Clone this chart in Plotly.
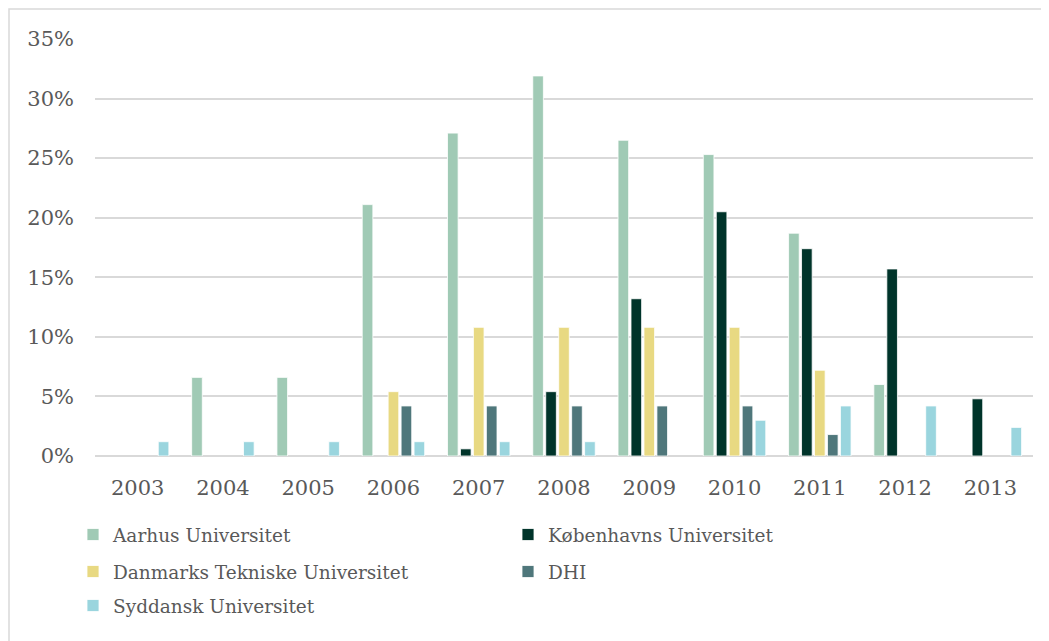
import plotly.graph_objects as go

years = ["2003", "2004", "2005", "2006", "2007", "2008", "2009", "2010", "2011", "2012", "2013"]

aarhus = [None, 0.066, 0.066, 0.211, 0.271, 0.319, 0.265, 0.253, 0.187, 0.060, None]
koebenhavn = [None, None, None, None, 0.006, 0.054, 0.132, 0.205, 0.174, 0.157, 0.048]
dtu = [None, None, None, 0.054, 0.108, 0.108, 0.108, 0.108, 0.072, None, None]
dhi = [None, None, None, 0.042, 0.042, 0.042, 0.042, 0.042, 0.018, None, None]
syddansk = [0.012, 0.012, 0.012, 0.012, 0.012, 0.012, None, 0.030, 0.042, 0.042, 0.024]

series = [
    ("Aarhus Universitet", aarhus, "#A0CAB5", "legend"),
    ("Københavns Universitet", koebenhavn, "#00342A", "legend"),
    ("Danmarks Tekniske Universitet", dtu, "#E8D982", "legend2"),
    ("DHI", dhi, "#4F777B", "legend2"),
    ("Syddansk Universitet", syddansk, "#9AD5DE", "legend3"),
]

FONT = "DejaVu Serif"
TXT = "#595959"
GRID = "#D9D9D9"

fig = go.Figure()
for name, vals, color, leg in series:
    fig.add_trace(go.Bar(
        x=years, y=vals, name=name, legend=leg,
        marker=dict(color=color, line=dict(color="white", width=0.8)),
    ))

# page has an 8px body margin; figure sized to fill the rest of the window
OFF = 8
W, H = 1049 - OFF, 641 - OFF
ml, mr, mt, mb = 95 - OFF, 16, 39 - OFF, 185
pw, ph = W - ml - mr, H - mt - mb

def px_x(x):
    return (x - OFF - ml) / pw

def px_y(y):
    return (H - mb - (y - OFF)) / ph

leg_common = dict(
    orientation="h", xanchor="left", yanchor="middle",
    font=dict(family=FONT, size=18.5, color=TXT),
    entrywidth=390, entrywidthmode="pixels",
    bgcolor="rgba(0,0,0,0)", itemclick=False, itemdoubleclick=False,
)

fig.update_layout(
    width=W, height=H,
    margin=dict(l=ml, r=mr, t=mt, b=mb),
    paper_bgcolor="white", plot_bgcolor="white",
    barmode="group", bargap=0.24, bargroupgap=0.18,
    font=dict(family=FONT, color=TXT),
    showlegend=True,
    legend=dict(x=px_x(73), y=px_y(535), **leg_common),
    legend2=dict(x=px_x(73), y=px_y(572), **leg_common),
    legend3=dict(x=px_x(73), y=px_y(606), **leg_common),
    xaxis=dict(
        type="category", showgrid=False, showline=False, zeroline=False,
        tickfont=dict(family=FONT, size=21, color=TXT), ticks="",
        ticklabelstandoff=17,
    ),
    yaxis=dict(
        range=[0, 0.35], dtick=0.05, tickformat=".0%",
        showgrid=True, gridcolor=GRID, gridwidth=1.5,
        zeroline=True, zerolinecolor=GRID, zerolinewidth=1.5,
        showline=False, ticks="",
        tickfont=dict(family=FONT, size=21, color=TXT),
        ticklabelstandoff=20,
    ),
    shapes=[dict(
        type="rect", xref="paper", yref="paper",
        x0=px_x(9), x1=px_x(1200), y0=px_y(9), y1=px_y(800),
        line=dict(color=GRID, width=1.5), fillcolor="rgba(0,0,0,0)", layer="below",
    )],
)

fig.write_html("out.html")
